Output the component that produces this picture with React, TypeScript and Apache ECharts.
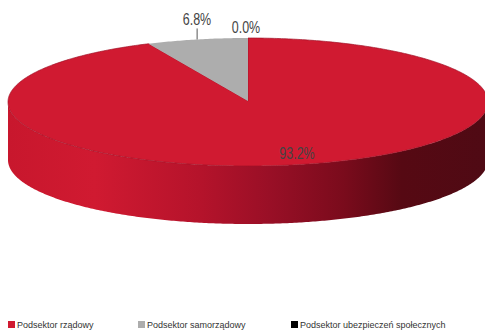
import React, { useEffect, useRef } from "react";
import * as echarts from "echarts";

const categories = ["Podsektor rządowy", "Podsektor samorządowy", "Podsektor ubezpieczeń społecznych"];
const values = [93.2, 6.8, 0.0];
const colors = ["#d01a31", "#adadad", "#000000"];

const CX = 248, CY = 102, RX = 240, RY = 64, DEPTH = 58;
const FONT = "Liberation Sans";
const TOTAL = values.reduce((a, b) => a + b, 0);
const labelLayout = [
  { x: 297, y: 153, line: false },
  { x: 197, y: 19, line: true },
  { x: 246, y: 27, line: false },
];
const legendLeft = [5, 135, 288];

const pt = (a: number, dy = 0): [number, number] => [CX + RX * Math.sin(a), CY - RY * Math.cos(a) + dy];

function arcPoints(a0: number, a1: number, dy = 0) {
  const n = Math.max(2, Math.ceil(Math.abs(a1 - a0) / 0.01));
  const out: [number, number][] = [];
  for (let i = 0; i <= n; i++) out.push(pt(a0 + ((a1 - a0) * i) / n, dy));
  return out;
}

const wallGradient = {
  type: "linear", x: 0, y: 0, x2: 1, y2: 0,
  colorStops: [
    { offset: 0, color: "#c8172d" },
    { offset: 0.18, color: "#d01a31" },
    { offset: 0.4, color: "#b5132b" },
    { offset: 0.55, color: "#980f26" },
    { offset: 0.7, color: "#7a0b1c" },
    { offset: 0.82, color: "#560913" },
    { offset: 1, color: "#4f0a14" },
  ],
};

function makeRender(idx: number) {
  return (_: any, api: any) => {
    const v = api.value(0);
    const before = values.slice(0, idx).reduce((a, b) => a + b, 0);
    const a0 = (before / TOTAL) * Math.PI * 2;
    const a1 = ((before + v) / TOTAL) * Math.PI * 2;
    const children: any[] = [];
    const f0 = Math.max(a0, Math.PI / 2);
    const f1 = Math.min(a1, (Math.PI * 3) / 2);
    if (f1 > f0) {
      const top = arcPoints(f0, f1);
      const bottom = arcPoints(f1, f0, DEPTH);
      children.push({
        type: "polygon",
        shape: { points: [...top, ...bottom] },
        style: { fill: wallGradient },
      });
    }
    if (v > 0) {
      children.push({
        type: "polygon",
        shape: { points: [[CX, CY - 1], ...arcPoints(a0, a1)] },
        style: { fill: colors[idx], stroke: idx === 0 ? "#a01228" : "none", lineWidth: 0.7 },
      });
    }
    const mid = (a0 + a1) / 2;
    const l = labelLayout[idx];
    if (l.line) {
      const p = pt(mid);
      children.push({
        type: "line",
        shape: { x1: p[0], y1: p[1], x2: p[0], y2: p[1] - 11 },
        style: { stroke: "#555", lineWidth: 1 },
      });
    }
    children.push({
      type: "text",
      x: l.x,
      y: l.y,
      scaleX: 0.78,
      z2: 10,
      style: {
        text: v.toFixed(1) + "%",
        fontFamily: FONT,
        fontSize: 16,
        fill: "#444444",
        textAlign: "center",
        textVerticalAlign: "middle",
      },
    });
    return { type: "group", children };
  };
}

export default function App() {
  const ref = useRef<HTMLDivElement>(null);
  useEffect(() => {
    document.body.style.margin = "0";
    const chart = echarts.init(ref.current!, undefined, { renderer: "svg" });
    chart.setOption({
      animation: false,
      backgroundColor: "#ffffff",
      legend: categories.map((name, i) => ({
        data: [name],
        left: legendLeft[i],
        top: 320,
        icon: "rect",
        itemWidth: 7,
        itemHeight: 7,
        itemGap: 2,
        padding: [0, 3],
        selectedMode: false,
        textStyle: { fontFamily: FONT, fontSize: 9, color: "#333", padding: [0, 0, 0, -3] },
      })),
      series: categories.map((name, i) => ({
        type: "custom",
        name,
        coordinateSystem: "none",
        data: [[values[i]]],
        itemStyle: { color: colors[i] },
        renderItem: makeRender(i),
        silent: true,
      })),
    });
    return () => chart.dispose();
  }, []);
  return <div ref={ref} style={{ width: 485, height: 336 }} />;
}
